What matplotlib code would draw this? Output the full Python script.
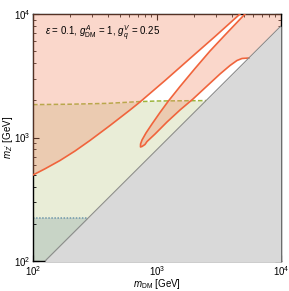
import matplotlib
matplotlib.use("Agg")
import matplotlib.pyplot as plt
import numpy as np

plt.rcParams['font.family'] = ['Liberation Sans', 'DejaVu Sans']
plt.rcParams['mathtext.fontset'] = 'custom'
plt.rcParams['mathtext.rm'] = 'Liberation Sans'
plt.rcParams['mathtext.it'] = 'Liberation Sans:italic'
plt.rcParams['mathtext.bf'] = 'Liberation Sans:bold'

# left exclusion contour (m_DM, m_Z')
left_mdm = [100, 125, 165, 218, 288, 418, 606, 729, 1161, 1845, 2936, 4670]
left_mzp = [497, 558, 651, 777, 946, 1251, 1670, 1939, 2894, 4363, 6574, 10000]

# tongue shaped contour: upper branch (top -> tip), lower branch (tip -> diagonal)
up_mdm = [5124, 3535, 2676, 2025, 1533, 1227, 1057, 911, 815, 757, 737, 736]
up_mzp = [10000, 6761, 5016, 3621, 2588, 1956, 1594, 1286, 1088, 954, 886, 838]
low_mdm = [736, 757, 800, 831, 964, 1204, 1533, 1951, 2531, 3222, 3879, 4418, 4847, 5500]
low_mzp = [838, 846, 878, 928, 1067, 1335, 1670, 2050, 2612, 3268, 3828, 4203, 4363, 4400]

# dashed bound
dash_mdm = [100, 200, 400, 700, 1000, 2490]
dash_mzp = [1846, 1860, 1890, 1950, 1975, 1990]

# dotted bound
dot_mdm = [100, 278]
dot_mzp = [222, 222]

# kinematic line m_Z' = 0.8 m_DM
diag_ratio = 0.8

fig = plt.figure(figsize=(2.89, 2.91), dpi=100)
ax = fig.add_axes([33/289, 1-261/291, 248/289, 247/291])
ax.set_xscale('log')
ax.set_yscale('log')
ax.set_xlim(100, 1e4)
ax.set_ylim(100, 1e4)

# green region below dashed line
ax.fill_between(dash_mdm, 100, dash_mzp, color='#e9edd7', lw=0, zorder=1)
ax.plot(dash_mdm, dash_mzp, ls=(0, (3, 1.5)), color='#9cb53c', lw=1.1, zorder=2)
# darker region below dotted line
ax.fill_between(dot_mdm, 100, dot_mzp, color='#c8d4c6', lw=0, zorder=1.5)
ax.plot(dot_mdm, dot_mzp, ls=(0, (1, 1)), color='#6f97ab', lw=1.1, zorder=2)

# pink excluded regions
pink = '#f18d6a'
ax.fill(left_mdm + [100], left_mzp + [1e4], color=pink, alpha=0.35, lw=0, zorder=3)
tongue_x = up_mdm + low_mdm[1:] + [1e4, 1e4]
tongue_y = up_mzp + low_mzp[1:] + [diag_ratio * 1e4, 1e4]
ax.fill(tongue_x, tongue_y, color=pink, alpha=0.35, lw=0, zorder=3)

# gray region below diagonal
dx = np.array([100, 1e4])
ax.fill_between(dx, 50, diag_ratio * dx, color='#d9d9d9', lw=0, zorder=4)

ax.plot(left_mdm, left_mzp, color='#f0643c', lw=1.2, zorder=5)
ax.plot(up_mdm + low_mdm[1:], up_mzp + low_mzp[1:], color='#f0643c', lw=1.2,
        zorder=5, solid_joinstyle='round')
ax.plot(dx, diag_ratio * dx, color='#8c8c8c', lw=0.8, zorder=6)

ax.text(0.05, 0.92, r'$\varepsilon$ = 0.1, $g^{A}_{\rm DM}$ = 1, $g^{V}_{q}$ = 0.25',
        transform=ax.transAxes, fontsize=7, va='center', ha='left', zorder=7)

ax.set_xlabel(r'$m_{\rm DM}$ [GeV]', fontsize=7, labelpad=-0.5)
ax.set_ylabel(r"$m_{Z'}$ [GeV]", fontsize=7, labelpad=-1)
ax.tick_params(which='both', direction='in', top=True, right=True, labelsize=7, pad=2)
ax.tick_params(which='major', length=4, width=0.8)
ax.tick_params(which='minor', length=2.5, width=0.6)
for s in ax.spines.values():
    s.set_linewidth(1.0)

fig.savefig('out.png', dpi=100)
